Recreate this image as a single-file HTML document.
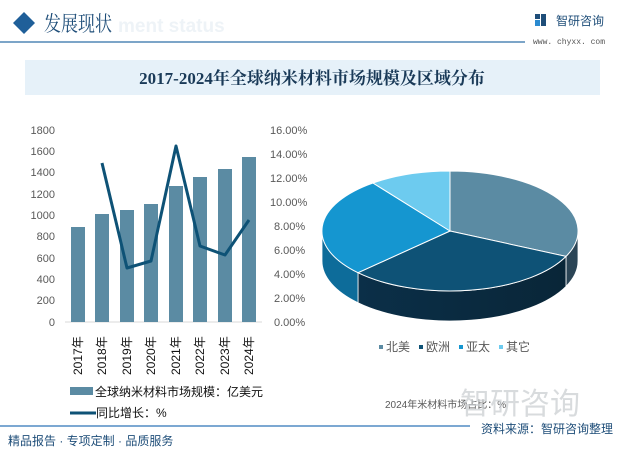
<!DOCTYPE html>
<html><head><meta charset="utf-8"><style>
html,body{margin:0;padding:0;background:#fff;}
body{width:625px;height:451px;position:relative;overflow:hidden;font-family:"Liberation Sans","Noto Sans CJK SC",sans-serif;}
</style></head><body>
<svg width="625" height="451" style="position:absolute;left:0;top:0" font-family="Liberation Sans, Noto Sans CJK SC, sans-serif">
<polygon points="24,12 35,23 24,34 13,23" fill="#1f5f99"/>
<text x="118" y="32" font-size="19" fill="#eef3f7" font-weight="bold">ment status</text>
<text x="44" y="31" font-size="21" fill="#1f4e79" font-family="Noto Serif CJK SC, serif" textLength="68" lengthAdjust="spacingAndGlyphs">发展现状</text>
<line x1="0" y1="42" x2="525" y2="42" stroke="#2e6fa6" stroke-width="1.2"/>
<rect x="535" y="14" width="5" height="5" fill="#1f4e79"/><rect x="535" y="20" width="5" height="6" fill="#2a8ad0"/><rect x="541" y="14" width="5" height="12" fill="#1f4e79"/>
<text x="556" y="25" font-size="12" fill="#1f4e79">智研咨询</text>
<text x="533" y="44" font-size="8" fill="#555" font-family="Liberation Mono, monospace">www. chyxx. com</text>
<rect x="25" y="60" width="575" height="35" fill="#e6f1f9"/>
<text x="312" y="84" font-size="17" fill="#1a3a58" text-anchor="middle" font-family="Liberation Serif, Noto Serif CJK SC, serif" font-weight="bold">2017-2024年全球纳米材料市场规模及区域分布</text>
<g font-size="11" fill="#595959" text-anchor="end">
<text x="55" y="134">1800</text><text x="55" y="155">1600</text><text x="55" y="176">1400</text><text x="55" y="198">1200</text><text x="55" y="219">1000</text><text x="55" y="240">800</text><text x="55" y="262">600</text><text x="55" y="283">400</text><text x="55" y="304">200</text><text x="55" y="326">0</text>
</g>
<g font-size="11" fill="#595959">
<text x="270" y="134">16.00%</text><text x="270" y="158">14.00%</text><text x="270" y="182">12.00%</text><text x="270" y="206">10.00%</text><text x="274" y="230">8.00%</text><text x="274" y="254">6.00%</text><text x="274" y="278">4.00%</text><text x="274" y="302">2.00%</text><text x="274" y="326">0.00%</text>
</g>
<line x1="65" y1="322" x2="262" y2="322" stroke="#d9d9d9"/>
<g fill="#5b8ba3">
<rect x="71" y="227" width="14" height="95"/>
<rect x="95" y="214" width="14" height="108"/>
<rect x="120" y="210" width="14" height="112"/>
<rect x="144" y="204" width="14" height="118"/>
<rect x="169" y="186" width="14" height="136"/>
<rect x="193" y="177" width="14" height="145"/>
<rect x="218" y="169" width="14" height="153"/>
<rect x="242" y="157" width="14" height="165"/>
</g>
<polyline points="102,163 127,268 151,261 176,146 200,246 225,255 249,220" fill="none" stroke="#0e5276" stroke-width="3" stroke-linejoin="round"/>
<g font-size="12" fill="#111">
<text transform="translate(82,375) rotate(-90)">2017年</text>
<text transform="translate(106,375) rotate(-90)">2018年</text>
<text transform="translate(131,375) rotate(-90)">2019年</text>
<text transform="translate(155,375) rotate(-90)">2020年</text>
<text transform="translate(180,375) rotate(-90)">2021年</text>
<text transform="translate(204,375) rotate(-90)">2022年</text>
<text transform="translate(229,375) rotate(-90)">2023年</text>
<text transform="translate(253,375) rotate(-90)">2024年</text>
</g>
<rect x="70" y="387" width="23" height="8" fill="#5b8ba3"/>
<text x="95" y="396" font-size="12" fill="#111">全球纳米材料市场规模：亿美元</text>
<line x1="70" y1="413" x2="96" y2="413" stroke="#0e5276" stroke-width="3"/>
<text x="96" y="417" font-size="12" fill="#111">同比增长：%</text>
<defs>
<linearGradient id="g2" x1="0" x2="1"><stop offset="0" stop-color="#0b2f48"/><stop offset="1" stop-color="#092638"/></linearGradient>
</defs>
<path d="M578,231 A128,60 0 0 1 566,256.4 L566,286.4 A128,60 0 0 0 578,261 Z" fill="#2b4556" stroke="#fff" stroke-width="0.8"/>
<path d="M566,256.4 A128,60 0 0 1 358,272.7 L358,302.7 A128,60 0 0 0 566,286.4 Z" fill="url(#g2)" stroke="#fff" stroke-width="0.8"/>
<path d="M358,272.7 A128,60 0 0 1 322,231 L322,261 A128,60 0 0 0 358,302.7 Z" fill="#0d6c9a" stroke="#fff" stroke-width="0.8"/>
<path d="M450,231 L450,171 A128,60 0 0 1 566,256.4 Z" fill="#5b8ba3" stroke="#fff" stroke-width="1"/>
<path d="M450,231 L566,256.4 A128,60 0 0 1 358,272.7 Z" fill="#0e5276" stroke="#fff" stroke-width="1"/>
<path d="M450,231 L358,272.7 A128,60 0 0 1 373,183 Z" fill="#1596d0" stroke="#fff" stroke-width="1"/>
<path d="M450,231 L373,183 A128,60 0 0 1 450,171 Z" fill="#6dcbef" stroke="#fff" stroke-width="1"/>
<g font-size="12" fill="#595959">
<rect x="379" y="345" width="4" height="4" fill="#5b8ba3"/><text x="386" y="351">北美</text>
<rect x="419" y="345" width="4" height="4" fill="#0e5276"/><text x="426" y="351">欧洲</text>
<rect x="459" y="345" width="4" height="4" fill="#1596d0"/><text x="466" y="351">亚太</text>
<rect x="499" y="345" width="4" height="4" fill="#6dcbef"/><text x="506" y="351">其它</text>
</g>
<text x="385" y="408" font-size="10" fill="#595959">2024年米材料市场占比：%</text>
<text x="460" y="414" font-size="30" fill="#c8ccd0" opacity="0.7">智研咨询</text>
<line x1="0" y1="426" x2="470" y2="426" stroke="#2e75b6" stroke-width="1.2"/>
<text x="8" y="445" font-size="12" fill="#1f4e79">精品报告 · 专项定制 · 品质服务</text>
<text x="481" y="433" font-size="12" fill="#1f4e79">资料来源：智研咨询整理</text>
</svg>
</body></html>
